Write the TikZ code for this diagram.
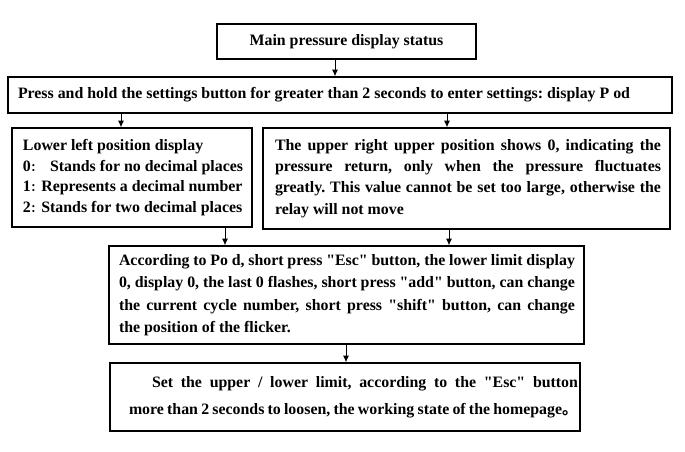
\documentclass[tikz,border=0pt]{standalone}
\usepackage{fontspec}
\setmainfont{Liberation Serif}
\newfontfamily\cjkfont{Noto Sans CJK SC}
\newcommand\cjkcolon{{\cjkfont\fontsize{7.8pt}{7.8pt}\selectfont ：}}
\usetikzlibrary{arrows.meta}
\frenchspacing
\begin{document}
\begin{tikzpicture}[x=0.75pt,y=-0.75pt,
  box/.style={draw, line width=1pt, inner sep=0pt, font=\bfseries\fontsize{11.9pt}{#1}\selectfont\frenchspacing},
  box/.default=16pt,
  arr/.style={line width=0.75pt, -{Latex[length=5pt,width=4.5pt]}}]
\useasboundingbox (0,0) rectangle (685,452);
\node[box, minimum width=194.25pt, minimum height=26.25pt] (b1) at (346.5,41.5) {Main pressure display status};
\node[box, minimum width=498pt, minimum height=27pt] (b2) at (340,95)
  {\makebox[498pt][l]{\hspace*{7.5pt}Press and hold the settings button for greater than 2 seconds to enter settings: display P od}};
\node[box=15.5pt, minimum width=180pt, minimum height=74.25pt] (b3) at (132,177.5)
  {\makebox[180pt][l]{\hspace*{8.25pt}\parbox{171pt}{\raggedright Lower left position display\\
   0\cjkcolon\hspace{6.5pt}Stands for no decimal places\\
   1\cjkcolon Represents a decimal number\\
   2\cjkcolon Stands for two decimal places}}};
\node[box=16pt, minimum width=305.25pt, minimum height=75.75pt] (b4) at (466.5,178.5)
  {\hspace*{9pt}\parbox{289.5pt}{\noindent The upper right upper position shows 0, indicating the\linebreak
   pressure return, only when the pressure fluctuates\linebreak
   greatly. This value cannot be set too large, otherwise the\linebreak
   relay will not move}\hspace*{6.75pt}};
\node[box=16.9pt, minimum width=356.25pt, minimum height=73.5pt] (b5) at (346.5,295)
  {\hspace*{7.5pt}\parbox{342pt}{\noindent According to Po d, short press \textquotedbl Esc\textquotedbl\ button, the lower limit display\linebreak
   0, display 0, the last 0 flashes, short press \textquotedbl add\textquotedbl\ button, can change\linebreak
   the current cycle number, short press \textquotedbl shift\textquotedbl\ button, can change\linebreak
   the position of the flicker.}\hspace*{6.75pt}};
\node[box=20.25pt, minimum width=352.5pt, minimum height=51pt] (b6) at (345,397)
  {\hspace*{14.25pt}\parbox{336.75pt}{\noindent\hspace*{17.25pt}Set the upper / lower limit, according to the \textquotedbl Esc\textquotedbl\ button\linebreak
   more than 2 seconds to loosen, the working state of the homepage{\cjkfont 。}}\hspace*{1.5pt}};
\coordinate (x1) at (335,0);
\coordinate (x2) at (121,0);
\coordinate (x3) at (447,0);
\coordinate (x4) at (225,0);
\coordinate (x5) at (449,0);
\coordinate (x6) at (346,0);
\draw[arr] (b1.south -| x1) -- (b2.north -| x1);
\draw[arr] (b2.south -| x2) -- (b3.north -| x2);
\draw[arr] (b2.south -| x3) -- (b4.north -| x3);
\draw[arr] (b3.south -| x4) -- (b5.north -| x4);
\draw[arr] (b4.south -| x5) -- (b5.north -| x5);
\draw[arr] (b5.south -| x6) -- (b6.north -| x6);
\end{tikzpicture}
\end{document}
